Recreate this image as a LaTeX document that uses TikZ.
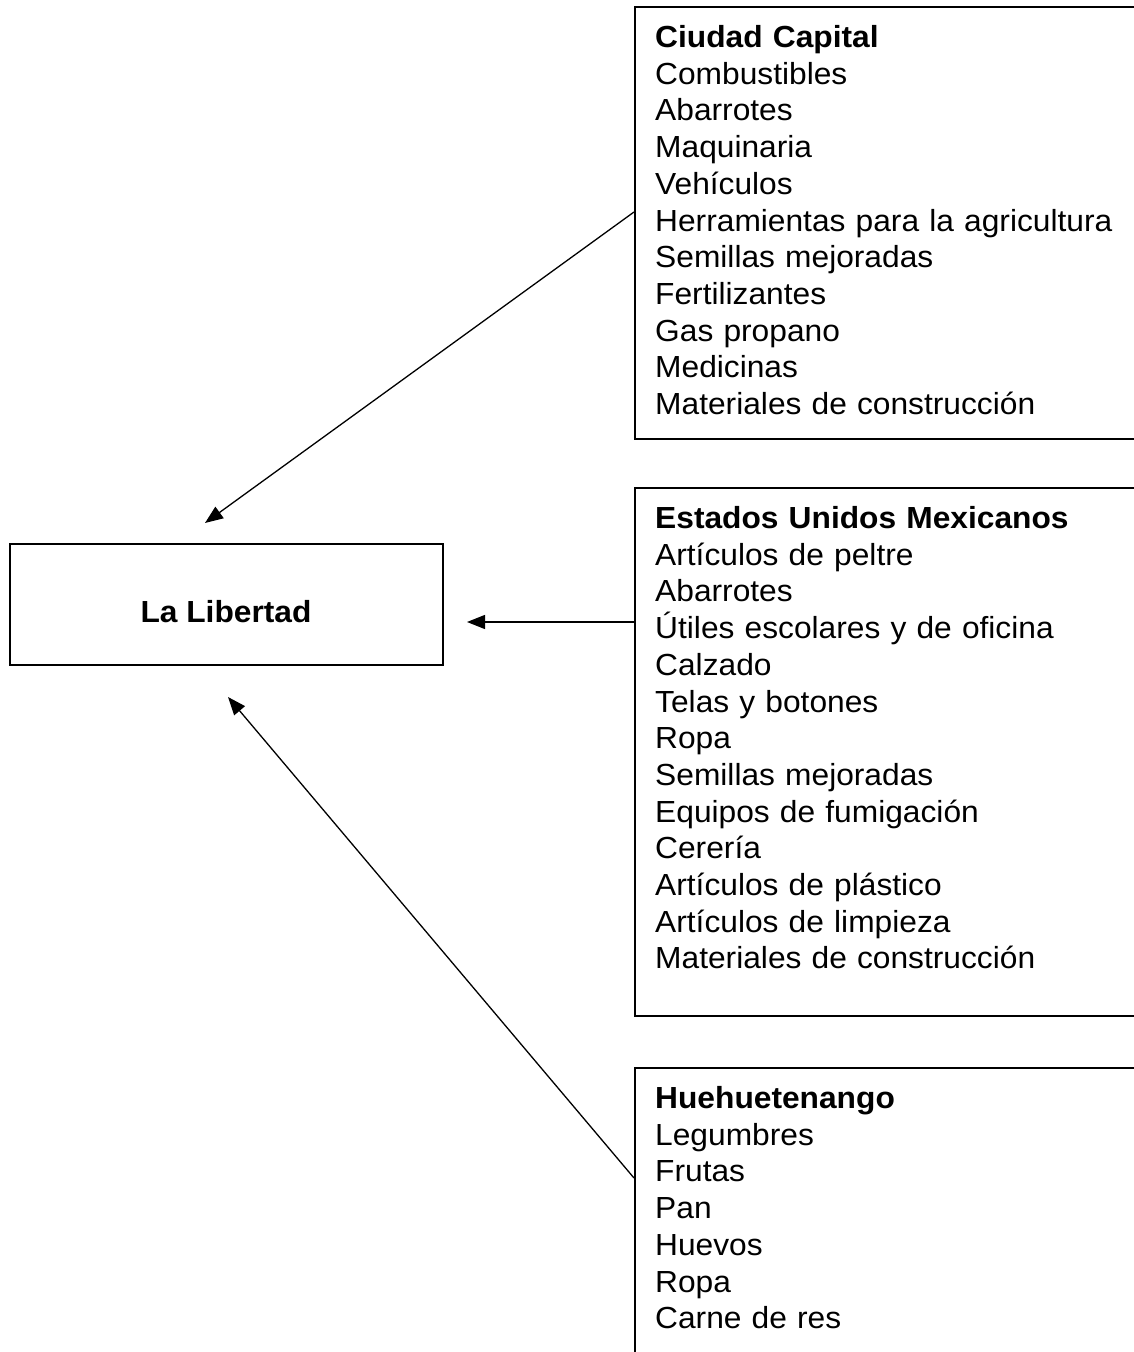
\documentclass[tikz,border=0pt]{standalone}
\usepackage{fontspec}
\setmainfont[FakeStretch=1.04]{Liberation Sans}
\usetikzlibrary{arrows.meta}
\begin{document}
\begin{tikzpicture}[x=1pt,y=-1pt,
  boxline/.style={draw=black,line width=2pt,inner sep=0pt,anchor=north west},
  listtext/.style={anchor=base west,inner sep=0pt,text width=480pt,align=left,
    font=\fontsize{30.5pt}{36.7pt}\selectfont},
  maintext/.style={inner sep=0pt,font=\fontsize{30.5pt}{36.7pt}\selectfont\bfseries},
  conn/.style={line width=1.3pt,-{Triangle[length=18pt,width=14pt]}}]
\useasboundingbox (0,0) rectangle (1134,1352);
\begin{scope}
\clip (0,0) rectangle (1134,1352);
\node[boxline,minimum width=600pt,minimum height=432pt] (cap) at (634,6) {};
\node[boxline,minimum width=600pt,minimum height=528pt] (mex) at (634,487) {};
\node[boxline,minimum width=600pt,minimum height=400pt] (hue) at (634,1067) {};
\end{scope}
\node[draw=black,line width=2pt,minimum width=433pt,minimum height=121pt,inner sep=0pt] (lib) at (226.5,604.5) {};
\node[maintext] (libt) at (226,612) {La Libertad};

\node[listtext] (capt) at (655,47.5) {\textbf{Ciudad Capital}\\Combustibles\\Abarrotes\\Maquinaria\\Vehículos\\Herramientas para la agricultura\\Semillas mejoradas\\Fertilizantes\\Gas propano\\Medicinas\\Materiales de construcción};
\node[listtext] (mext) at (655,528.5) {\textbf{Estados Unidos Mexicanos}\\Artículos de peltre\\Abarrotes\\Útiles escolares y de oficina\\Calzado\\Telas y botones\\Ropa\\Semillas mejoradas\\Equipos de fumigación\\Cerería\\Artículos de plástico\\Artículos de limpieza\\Materiales de construcción};
\node[listtext] (huet) at (655,1108.5) {\textbf{Huehuetenango}\\Legumbres\\Frutas\\Pan\\Huevos\\Ropa\\Carne de res};

\coordinate (s1) at (634,212);
\coordinate (e1) at (205,523);
\coordinate (s2) at (634,622);
\coordinate (e2) at (467,622);
\coordinate (s3) at (634,1178);
\coordinate (e3) at (228,697);
\draw[conn] (s1) -- (e1);
\draw[conn] (s2) -- (e2);
\draw[conn] (s3) -- (e3);
\end{tikzpicture}
\end{document}
